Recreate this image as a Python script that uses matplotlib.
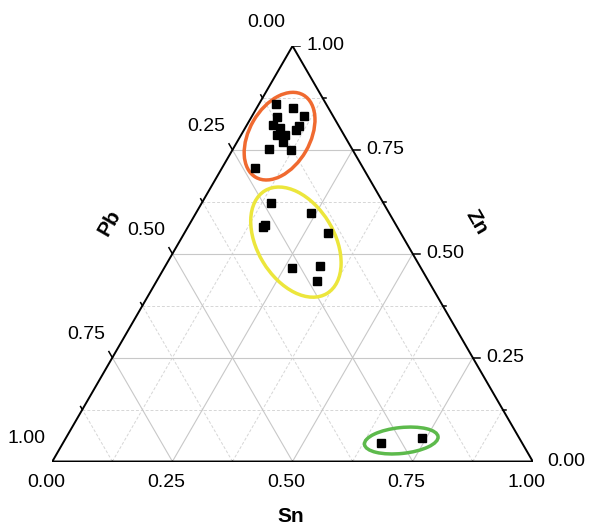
import numpy as np
import matplotlib.pyplot as plt
from matplotlib.patches import Ellipse

plt.rcParams['font.family'] = ['Liberation Sans', 'DejaVu Sans']

# ---- data (fractions) ----
sn_orange = [0.036, 0.075, 0.108, 0.053, 0.054, 0.110, 0.108, 0.073, 0.074, 0.091, 0.095, 0.076, 0.121, 0.069]
zn_orange = [0.860, 0.850, 0.832, 0.830, 0.810, 0.808, 0.798, 0.802, 0.786, 0.786, 0.770, 0.751, 0.750, 0.706]

sn_yellow = [0.145, 0.240, 0.157, 0.159, 0.300, 0.266, 0.322, 0.333]
zn_yellow = [0.621, 0.597, 0.565, 0.569, 0.549, 0.465, 0.471, 0.435]

sn_green = [0.661, 0.741]
zn_green = [0.045, 0.056]

tick_vals = [0.0, 0.25, 0.5, 0.75, 1.0]
tick_labels = ['0.00', '0.25', '0.50', '0.75', '1.00']
minor_vals = [0.125, 0.375, 0.625, 0.875]

H = np.sqrt(3) / 2


def tern(sn, zn):
    # Sn -> right corner, Zn -> top corner, Pb -> left corner
    sn = np.asarray(sn, dtype=float)
    zn = np.asarray(zn, dtype=float)
    return sn + zn / 2, zn * H


fig = plt.figure(figsize=(5.89, 5.29), dpi=100)
ax = fig.add_axes([52.3 / 589, (529 - 461.5) / 529, 480.5 / 589, 415.5 / 529])
ax.set_xlim(0, 1)
ax.set_ylim(0, H)
ax.axis('off')

# grid
for f in minor_vals + tick_vals[1:-1]:
    major = f in tick_vals
    kw = dict(color='#c8c8c8', lw=0.8, zorder=1) if major else \
        dict(color='#d6d6d6', lw=0.7, ls=(0, (3, 2)), zorder=1)
    # constant Zn
    x, y = tern([0, 1 - f], [f, f])
    ax.plot(x, y, **kw)
    # constant Sn
    x, y = tern([f, f], [0, 1 - f])
    ax.plot(x, y, **kw)
    # constant Pb
    x, y = tern([1 - f, 0], [0, 1 - f])
    ax.plot(x, y, **kw)

# triangle frame
x, y = tern([0, 1, 0, 0], [0, 0, 1, 0])
ax.plot(x, y, color='black', lw=1.4, zorder=3, solid_joinstyle='miter')

# ticks
px = 1 / 480.5
for f in tick_vals + minor_vals:
    L = 7 * px if f in tick_vals else 3.5 * px
    # Sn (bottom): outward along constant-Sn line
    x0, y0 = tern(f, 0)
    ax.plot([x0, x0 - 0.5 * L], [y0, y0 - H * L], color='black', lw=1.1, zorder=3)
    # Zn (right): horizontal
    x0, y0 = tern(1 - f, f)
    ax.plot([x0, x0 + L], [y0, y0], color='black', lw=1.1, zorder=3)
    # Pb (left): outward along constant-Pb line
    x0, y0 = tern(0, 1 - f)
    ax.plot([x0, x0 - 0.5 * L], [y0, y0 + H * L], color='black', lw=1.1, zorder=3)

# tick labels
for f, lab in zip(tick_vals, tick_labels):
    x0, y0 = tern(f, 0)
    ax.annotate(lab, (x0, y0), xytext=(-6, -21), textcoords='offset pixels',
                ha='center', va='center', fontsize=14)
    x0, y0 = tern(1 - f, f)
    ax.annotate(lab, (x0, y0), xytext=(14, 0), textcoords='offset pixels',
                ha='left', va='center', fontsize=14)
    x0, y0 = tern(0, 1 - f)
    ax.annotate(lab, (x0, y0), xytext=(-26, 23), textcoords='offset pixels',
                ha='center', va='center', fontsize=14)

# axis titles
fig.text(291 / 589, 1 - 516 / 529, 'Sn', ha='center', va='center', fontsize=15, fontweight='bold')
fig.text(110 / 589, 1 - 223 / 529, 'Pb', ha='center', va='center', fontsize=15,
         fontweight='bold', rotation=60)
fig.text(476 / 589, 1 - 222 / 529, 'Zn', ha='center', va='center', fontsize=15,
         fontweight='bold', rotation=-60)

# points and cluster outlines
groups = [
    (sn_orange, zn_orange, '#f06a30', 0.198, 0.126, 60),
    (sn_yellow, zn_yellow, '#ece63c', 0.250, 0.160, -59),
    (sn_green, zn_green, '#5dba4c', 0.154, 0.054, 6),
]
for sn, zn, col, w, h, ang in groups:
    x, y = tern(sn, zn)
    ax.plot(x, y, 's', color='black', ms=5.8, zorder=5, clip_on=False)
    cx = (x.min() + x.max()) / 2
    cy = (y.min() + y.max()) / 2
    ax.add_patch(Ellipse((cx, cy), w, h, angle=ang, fill=False, ec=col, lw=2.5,
                         zorder=4, clip_on=False))

fig.savefig('out.png', dpi=100)
